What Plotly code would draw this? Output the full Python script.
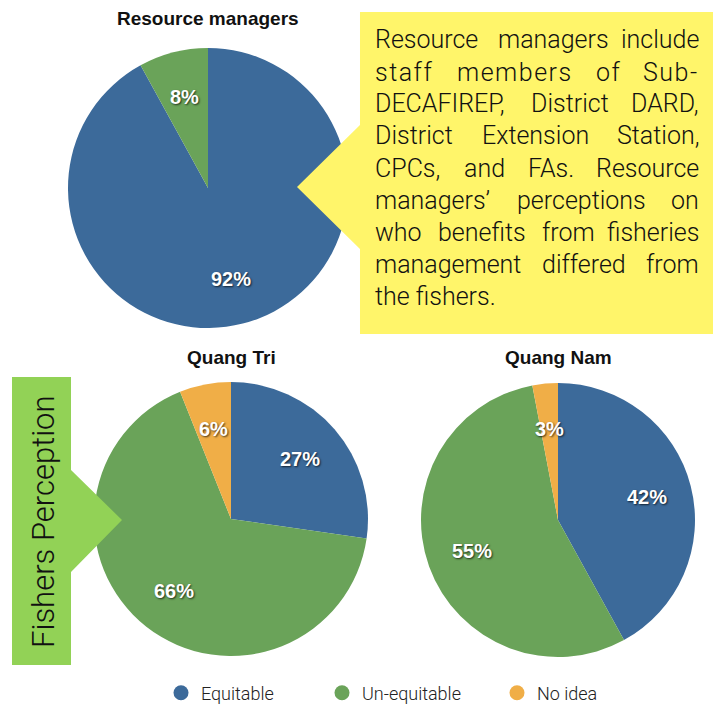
import math
import plotly.graph_objects as go

W, H = 722, 704

# ---------------- data ----------------
categories = ["Equitable", "Un-equitable", "No idea"]
rm_labels = ["Equitable", "Un-equitable"]
rm_values = [92, 8]
qt_values = [27, 66, 6]
qn_values = [42, 55, 3]
pie_titles = ["Resource managers", "Quang Tri", "Quang Nam"]

callout_lines = [
    ["Resource", "managers", "include"],
    ["staff", "members", "of", "Sub-"],
    ["DECAFIREP,", "District", "DARD,"],
    ["District", "Extension", "Station,"],
    ["CPCs,", "and", "FAs.", "Resource"],
    ["managers\u2019", "perceptions", "on"],
    ["who", "benefits", "from", "fisheries"],
    ["management", "differed", "from"],
    ["the fishers."],
]
side_label = "Fishers Perception"

# ---------------- style / layout constants ----------------
colors = {"Equitable": "#3c6a9a", "Un-equitable": "#6aa359", "No idea": "#f0ae47"}
yellow = "#fff56a"
green_box = "#92d256"

# pie geometry in pixels: centre x, centre y, radius
pie_geom = [(208, 188, 140), (231, 519, 137), (558, 520, 137)]
title_y = [19, 357, 357]

# callout word positions (left x of middle words), pixels
text_left, text_right = 373, 701
line_y0, line_dy = 40, 32
middle_x = [[496], [455, 594], [529], [480], [462, 526], [515], [436, 540], [540], []]


def px(x):
    return x / W


def py(y):
    return 1 - y / H


fig = go.Figure()

pies = [(rm_labels, rm_values), (categories, qt_values), (categories, qn_values)]
label_font = dict(family="Liberation Sans, Arial", size=20, color="white",
                  weight="bold", shadow="1px 1px 2px rgba(0,0,0,0.7)")

annotations = []
for (labs, vals), (cx, cy, r), title, ty in zip(pies, pie_geom, pie_titles, title_y):
    fig.add_trace(go.Pie(
        labels=labs, values=vals, sort=False, direction="clockwise", rotation=0,
        marker=dict(colors=[colors[l] for l in labs]),
        textinfo="none", showlegend=False, hoverinfo="label+percent",
        domain=dict(x=[px(cx - r), px(cx + r)], y=[py(cy + r), py(cy - r)]),
    ))
    total = sum(vals)
    cum = 0
    for v in vals:
        mid = (cum + v / 2) / total * 2 * math.pi
        cum += v
        rr = 0.67 * r
        lx = cx + rr * math.sin(mid)
        ly = cy - rr * math.cos(mid)
        annotations.append(dict(
            x=px(lx), y=py(ly), xref="paper", yref="paper", showarrow=False,
            text=f"{v}%", font=label_font,
            xanchor="center", yanchor="middle"))
    annotations.append(dict(
        x=px(cx), y=py(ty), xref="paper", yref="paper", showarrow=False,
        text=f"<b>{title}</b>", xanchor="center", yanchor="middle",
        font=dict(family="Liberation Sans, Arial", size=19, color="#111111")))

# legend entries via dummy scatter traces (circle markers)
legend_x = [183, 344, 519]
for i, cat in enumerate(categories):
    fig.add_trace(go.Scatter(
        x=[None], y=[None], mode="markers", name=cat,
        marker=dict(symbol="circle", size=15, color=colors[cat]),
        legend="legend" if i == 0 else f"legend{i + 1}", showlegend=True))

legend_font = dict(family="Roboto, Liberation Sans", size=18, color="#222222", weight=300)
legend_common = dict(orientation="h", xref="paper", yref="paper", yanchor="middle",
                     xanchor="left", bgcolor="rgba(0,0,0,0)", font=legend_font)

# callout text (justified look)
cfont = dict(family="Roboto, Liberation Sans", size=25, color="#111111", weight=300)
for i, words in enumerate(callout_lines):
    yy = py(line_y0 + i * line_dy)
    txt = (lambda w: f'<span style="letter-spacing:1.5px">{w}</span>') if i == 1 else (lambda w: w)
    annotations.append(dict(x=px(text_left), y=yy, xref="paper", yref="paper",
                            showarrow=False, text=txt(words[0]), xanchor="left",
                            yanchor="middle", font=cfont))
    if len(words) == 1:
        continue
    for w, xm in zip(words[1:-1], middle_x[i]):
        annotations.append(dict(x=px(xm), y=yy, xref="paper", yref="paper",
                                showarrow=False, text=txt(w), xanchor="left",
                                yanchor="middle", font=cfont))
    annotations.append(dict(x=px(text_right), y=yy, xref="paper", yref="paper",
                            showarrow=False, text=txt(words[-1]), xanchor="right",
                            yanchor="middle", font=cfont))

# side label
annotations.append(dict(x=px(43), y=py(522), xref="paper", yref="paper", showarrow=False,
                        text=side_label, textangle=-90, xanchor="center", yanchor="middle",
                        font=dict(family="Roboto, Liberation Sans", size=31,
                                  color="#111111", weight=300)))


def path(pts):
    return "M " + " L ".join(f"{px(x):.5f},{py(y):.5f}" for x, y in pts) + " Z"


shapes = [
    dict(type="path", xref="paper", yref="paper", layer="above",
         path=path([(360, 12), (713, 12), (713, 334), (360, 334), (360, 249),
                    (297, 187), (360, 125)]),
         fillcolor=yellow, line=dict(width=0)),
    dict(type="path", xref="paper", yref="paper", layer="above",
         path=path([(12, 377), (71, 377), (71, 470), (122, 520), (71, 572),
                    (71, 665), (12, 665)]),
         fillcolor=green_box, line=dict(width=0)),
]

layout_legends = {}
for i, lx in enumerate(legend_x):
    key = "legend" if i == 0 else f"legend{i + 1}"
    layout_legends[key] = dict(legend_common, x=px(lx - 22), y=py(693))

fig.update_layout(
    width=W, height=H, margin=dict(l=0, r=0, t=0, b=0, autoexpand=False),
    paper_bgcolor="white", plot_bgcolor="white",
    xaxis=dict(visible=False), yaxis=dict(visible=False),
    annotations=annotations, shapes=shapes,
    **layout_legends,
)

fig.write_html("out.html", config={"displayModeBar": False},
               post_script="document.body.style.margin='0px';")
